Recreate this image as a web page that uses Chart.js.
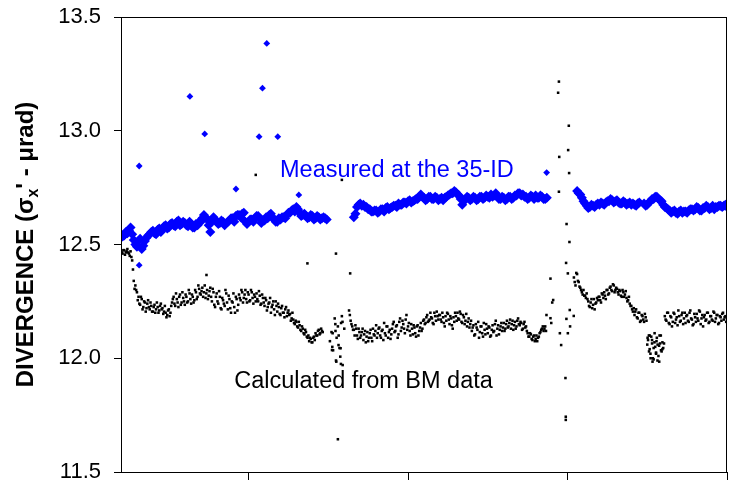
<!DOCTYPE html>
<html>
<head>
<meta charset="utf-8">
<script src="https://cdn.jsdelivr.net/npm/chart.js@4.4.1/dist/chart.umd.min.js"></script>
<style>
  html, body { margin: 0; padding: 0; overflow: hidden; background: #fff; }
</style>
</head>
<body>
<canvas id="divChart" width="732" height="510"></canvas>
<script>
// time axis in hours; readings are sampled at a fixed step from startTime
const startTime = 0.2;
const measuredStep = 0.02;
const calculatedStep = 0.01;
const xTicks = [1, 2, 3, 4];
const yTicks = [11.5, 12.0, 12.5, 13.0, 13.5];

// measured divergence at the 35-ID, two interleaved read-outs per step (null = no reading)
const measured = [
  12.545, 12.54, 12.55, 12.575, 12.52, 12.49, 12.525, 12.495, 12.53, 12.545,
  12.56, 12.545, 12.57, 12.565, 12.585, 12.575, 12.595, 12.58, 12.605, 12.59,
  12.595, 12.58, 12.59, 12.575, 12.585, 12.6, 12.63, 12.61, 12.555, 12.62,
  12.6, 12.595, 12.6, 12.595, 12.605, 12.615, 12.625, 12.63, 12.635, 12.6,
  12.6, 12.61, 12.615, 12.625, 12.595, 12.605, 12.615, 12.635, 12.61, 12.6,
  12.61, 12.62, 12.63, 12.64, 12.655, 12.665, 12.64, 12.63, 12.625, 12.62,
  12.625, 12.615, 12.62, 12.615, 12.615, null, null, null, null, null,
  null, null, null, 12.62, 12.665, 12.68, 12.675, 12.665, 12.655, 12.645,
  12.65, 12.645, 12.655, 12.66, 12.655, 12.665, 12.67, 12.68, 12.675, 12.685,
  12.69, 12.685, 12.695, 12.7, 12.72, 12.705, 12.7, 12.71, 12.7, 12.705,
  12.7, 12.695, 12.71, 12.72, 12.725, 12.73, 12.715, 12.675, 12.7, 12.705,
  12.7, 12.705, 12.7, 12.71, 12.705, 12.71, 12.72, 12.715, 12.71, 12.7,
  12.705, 12.7, 12.71, 12.705, 12.715, 12.725, 12.72, 12.71, 12.705, 12.71,
  12.715, 12.705, 12.71, 12.7, null, null, null, null, null, null,
  null, null, null, 12.735, 12.72, 12.69, 12.67, 12.665, 12.67, 12.675,
  12.675, 12.68, 12.685, 12.69, 12.695, 12.69, 12.685, 12.68, 12.685, 12.68,
  12.675, 12.675, 12.68, null, 12.68, 12.675, 12.69, 12.7, 12.71, 12.695,
  12.675, 12.66, 12.65, 12.645, 12.64, 12.645, 12.64, 12.645, 12.65, 12.655,
  12.655, 12.66, 12.65, 12.66, 12.665, 12.66, 12.655, 12.665, 12.67, 12.67, 12.665
];
const measuredB = [
  12.535, 12.555, 12.56, 12.545, 12.5, 12.515, 12.48, 12.515, 12.54, 12.555,
  12.55, 12.565, 12.555, 12.58, 12.57, 12.59, 12.585, 12.6, 12.585, 12.6,
  12.585, 12.6, 12.575, 12.59, 12.6, 12.615, 12.62, 12.585, 12.6, 12.61,
  12.59, 12.605, 12.585, 12.6, 12.615, 12.6, 12.63, 12.62, 12.64, 12.59,
  12.61, 12.6, 12.625, 12.615, 12.605, 12.62, 12.63, 12.62, 12.6, 12.615,
  12.62, 12.615, 12.64, 12.65, 12.645, 12.655, 12.625, 12.635, 12.615, 12.63,
  12.61, 12.625, 12.61, 12.62, 12.61, null, null, null, null, null,
  null, null, null, 12.635, 12.675, 12.67, 12.665, 12.655, 12.645, 12.65,
  12.64, 12.655, 12.645, 12.665, 12.66, 12.67, 12.665, 12.675, 12.685, 12.68,
  12.695, 12.69, 12.7, 12.71, 12.71, 12.695, 12.71, 12.7, 12.71, 12.695,
  12.705, 12.705, 12.715, 12.725, 12.735, 12.72, 12.7, 12.69, 12.71, 12.695,
  12.71, 12.695, 12.71, 12.7, 12.715, 12.705, 12.71, 12.725, 12.7, 12.71,
  12.695, 12.71, 12.7, 12.715, 12.725, 12.715, 12.71, 12.7, 12.715, 12.7,
  12.705, 12.715, 12.7, 12.705, null, null, null, null, null, null,
  null, null, null, 12.725, 12.705, 12.68, 12.66, 12.675, 12.665, 12.68,
  12.685, 12.675, 12.69, 12.7, 12.685, 12.695, 12.68, 12.69, 12.675, 12.685,
  12.68, 12.67, 12.685, null, 12.67, 12.685, 12.7, 12.71, 12.7, 12.69,
  12.665, 12.655, 12.64, 12.65, 12.635, 12.65, 12.645, 12.64, 12.655, 12.65,
  12.665, 12.65, 12.66, 12.67, 12.655, 12.67, 12.665, 12.67, 12.665, 12.675
];
const measuredSpikeTimes  = [0.314, 0.314, 0.632, 0.725, 0.921, 1.066, 1.087, 1.114, 1.183, 1.315, 2.869];
const measuredSpikeValues = [12.845, 12.409, 13.151, 12.986, 12.744, 12.974, 13.187, 13.384, 12.974, 12.718, 12.816];

// divergence calculated from BM data, two interleaved read-outs per step
const calculated = [
  12.47, 12.46, 12.475, 12.465, 12.48, 12.46, 12.47, 12.43, 12.34, 12.32,
  12.29, 12.27, 12.235, 12.26, 12.225, 12.245, 12.22, 12.255, 12.215, 12.23,
  12.205, 12.235, 12.215, 12.225, 12.21, 12.24, 12.22, 12.205, 12.2, 12.19,
  12.215, 12.2, 12.245, 12.27, 12.23, 12.26, 12.225, 12.28, 12.245, 12.265,
  12.235, 12.27, 12.25, 12.285, 12.24, 12.27, 12.255, 12.29, 12.27, 12.305,
  12.28, 12.31, 12.29, 12.265, 12.3, 12.275, 12.31, 12.25, 12.29, 12.225,
  12.285, 12.24, 12.27, 12.215, 12.255, 12.23, 12.285, 12.215, 12.26, 12.2,
  12.245, 12.225, 12.27, 12.21, 12.28, 12.255, 12.29, 12.265, 12.3, 12.245,
  12.28, 12.255, 12.29, 12.24, 12.27, 12.285, 12.25, 12.275, 12.24, 12.265,
  12.23, 12.255, 12.225, 12.245, 12.2, 12.235, 12.215, 12.25, 12.205, 12.225,
  12.19, 12.23, 12.2, 12.215, 12.185, 12.21, 12.195, 12.175, 12.17, 12.15,
  12.16, 12.135, 12.145, 12.12, 12.13, 12.105, 12.115, 12.09, 12.075, 12.085,
  12.07, 12.095, 12.11, 12.1, 12.125, 12.11, 12.12, null, null, null,
  null, 12.075, 12.115, 12.035, 12.175, 11.985, 12.14, 12.045, 12.155, 11.97,
  12.13, null, null, 12.21, 12.165, 12.14, 12.125, 12.145, 12.1, 12.13,
  12.09, 12.115, 12.08, 12.12, 12.095, 12.075, 12.11, 12.09, 12.13, 12.1,
  12.145, 12.11, 12.135, 12.09, 12.125, 12.155, 12.1, 12.14, 12.115, 12.085,
  12.13, 12.16, 12.12, 12.145, 12.105, 12.175, 12.135, 12.15, 12.11, 12.19,
  12.14, 12.12, 12.15, 12.105, 12.135, 12.095, 12.145, 12.12, 12.155, 12.13,
  12.17, 12.155, 12.19, 12.165, 12.2, 12.175, 12.15, 12.185, 12.205, 12.17,
  12.19, 12.16, 12.18, 12.14, 12.165, 12.195, 12.15, 12.175, 12.13, 12.16,
  12.185, 12.2, 12.17, 12.195, 12.155, 12.18, 12.165, 12.14, 12.175, 12.15,
  12.12, 12.145, 12.105, 12.135, 12.16, 12.115, 12.14, 12.095, 12.125, 12.15,
  12.11, 12.135, 12.1, 12.145, 12.12, 12.165, 12.13, 12.105, 12.14, 12.12,
  12.155, 12.13, 12.165, 12.14, 12.17, 12.15, 12.125, 12.16, 12.14, 12.175,
  12.145, 12.155, 12.13, 12.16, 12.14, 12.11, 12.095, 12.105, 12.08, 12.1,
  12.085, 12.075, 12.095, 12.115, 12.13, 12.12, 12.14, null, null, null,
  null, null, null, null, null, null, null, null, null, null,
  null, null, null, null, 12.355, 12.32, 12.37, 12.335, 12.31, 12.29,
  12.3, 12.275, 12.285, 12.25, 12.225, 12.26, 12.235, 12.215, 12.245, 12.255,
  12.27, 12.245, 12.28, 12.29, 12.26, 12.3, 12.285, 12.315, 12.295, 12.32,
  12.3, 12.305, 12.28, 12.295, 12.27, 12.29, 12.28, 12.265, 12.255, 12.24,
  12.23, 12.205, 12.19, 12.215, 12.175, 12.2, 12.165, 12.185, 12.16, 12.18,
  12.06, 12.1, 12.02, 12.08, 11.995, 12.05, 12.09, 12.01, 12.065, 12.03,
  12.045, 12.185, 12.165, 12.2, 12.15, 12.18, 12.16, 12.195, 12.17, 12.145,
  12.185, 12.165, 12.2, 12.175, 12.155, 12.19, 12.16, 12.21, 12.17, 12.15,
  12.18, 12.195, 12.165, 12.205, 12.175, 12.14, 12.19, 12.17, 12.2, 12.16,
  12.185, 12.165, 12.2, 12.175, 12.19, 12.155, 12.18, 12.195, 12.17, 12.185, 12.175
];
const calculatedB = [
  12.465, 12.475, 12.455, 12.47, 12.465, 12.45, 12.445, 12.39, 12.305, 12.3,
  12.255, 12.24, 12.27, 12.215, 12.25, 12.205, 12.24, 12.225, 12.245, 12.205,
  12.225, 12.2, 12.245, 12.2, 12.23, 12.215, 12.195, 12.23, 12.18, 12.21,
  12.185, 12.23, 12.26, 12.24, 12.285, 12.245, 12.27, 12.235, 12.29, 12.25,
  12.28, 12.245, 12.3, 12.26, 12.28, 12.245, 12.3, 12.26, 12.32, 12.285,
  12.295, 12.27, 12.32, 12.285, 12.26, 12.295, 12.27, 12.305, 12.235, 12.27,
  12.25, 12.295, 12.22, 12.265, 12.24, 12.3, 12.245, 12.275, 12.22, 12.25,
  12.285, 12.2, 12.26, 12.235, 12.265, 12.3, 12.245, 12.28, 12.26, 12.29,
  12.25, 12.3, 12.265, 12.28, 12.25, 12.26, 12.295, 12.235, 12.28, 12.245,
  12.265, 12.21, 12.24, 12.265, 12.225, 12.25, 12.19, 12.23, 12.24, 12.195,
  12.22, 12.2, 12.18, 12.225, 12.2, 12.19, 12.165, 12.2, 12.155, 12.165,
  12.14, 12.16, 12.125, 12.14, 12.11, 12.125, 12.095, 12.1, 12.09, 12.07,
  12.09, 12.08, 12.1, 12.12, 12.105, 12.13, 12.115, null, null, null,
  null, null, 12.05, null, 12.12, null, 12.1, null, 12.185, null,
  null, null, null, 12.19, 12.15, 12.125, 12.1, 12.13, 12.085, 12.115,
  12.1, 12.13, 12.105, 12.07, 12.115, 12.09, 12.125, 12.075, 12.105, 12.12,
  12.09, 12.13, 12.1, 12.12, 12.08, 12.11, 12.14, 12.09, 12.125, 12.105,
  12.15, 12.115, 12.14, 12.09, 12.16, 12.12, 12.165, 12.13, 12.17, 12.125,
  12.155, 12.1, 12.13, 12.145, 12.11, 12.14, 12.1, 12.135, 12.12, 12.165,
  12.15, 12.18, 12.16, 12.17, 12.18, 12.155, 12.2, 12.165, 12.185, 12.19,
  12.17, 12.2, 12.155, 12.185, 12.2, 12.17, 12.185, 12.145, 12.18, 12.2,
  12.165, 12.175, 12.205, 12.16, 12.19, 12.15, 12.195, 12.16, 12.135, 12.165,
  12.135, 12.1, 12.15, 12.125, 12.09, 12.14, 12.11, 12.155, 12.105, 12.13,
  12.14, 12.095, 12.125, 12.115, 12.15, 12.1, 12.145, 12.125, 12.155, 12.135,
  12.12, 12.15, 12.135, 12.155, 12.13, 12.165, 12.145, 12.13, 12.165, 12.15,
  12.16, 12.125, 12.15, 12.135, 12.12, 12.095, 12.11, 12.085, 12.095, 12.075,
  12.1, 12.09, 12.11, 12.125, 12.14, 12.13, 12.12, null, null, null,
  null, null, null, null, null, null, null, null, null, null,
  null, null, null, null, 12.335, 12.375, 12.34, 12.315, 12.3, 12.28,
  12.275, 12.265, 12.26, 12.23, 12.245, 12.22, 12.26, 12.24, 12.265, 12.27,
  12.255, 12.285, 12.265, 12.275, 12.3, 12.28, 12.31, 12.3, 12.325, 12.29,
  12.31, 12.29, 12.3, 12.275, 12.3, 12.27, 12.295, 12.25, 12.27, 12.23,
  12.215, 12.22, 12.205, 12.18, 12.2, 12.16, 12.19, 12.17, 12.195, 12.165,
  12.08, 12.04, 12.095, 12.0, 12.07, 12.025, 12.06, 11.985, 12.1, 12.04,
  12.065, 12.17, 12.2, 12.155, 12.185, 12.14, 12.2, 12.155, 12.18, 12.21,
  12.16, 12.19, 12.15, 12.2, 12.185, 12.165, 12.2, 12.175, 12.145, 12.195,
  12.16, 12.175, 12.21, 12.15, 12.19, 12.18, 12.165, 12.2, 12.155, 12.185,
  12.17, 12.205, 12.16, 12.19, 12.15, 12.185, 12.165, 12.2, 12.18, 12.16
];
// scattered calculated readings (beam dumps / refills)
const calcExtraTimes = [
  0.736, 1.045, 1.369, 1.548, 1.585, 1.637, 1.560, 1.552, 1.564, 1.575,
  1.527, 1.523, 1.577, 1.544, 1.589, 1.548, 1.579,
  2.868, 2.893, 2.893, 2.898, 2.910, 2.904, 2.952, 2.960, 2.987, 2.989, 2.989,
  2.946, 2.941, 3.008, 3.004, 2.948, 3.010, 2.946, 2.994, 3.012, 2.991, 3.002,
  3.014, 2.993, 3.002, 3.016, 3.039,
  3.502, 3.511, 3.515, 3.521, 3.530, 3.533, 3.540, 3.546, 3.555, 3.558,
  3.564, 3.574, 3.577, 3.586, 3.595
];
const calcExtraValues = [
  12.366, 12.806, 12.417, 12.46, 12.784, 12.373, 11.644, 12.09, 12.058, 12.007,
  12.11, 12.036, 12.044, 12.15, 12.16, 11.99, 11.975,
  12.19, 12.35, 12.176, 12.155, 12.256, 12.245, 12.11, 12.058, 11.913, 11.743, 11.729,
  13.216, 13.167, 13.022, 12.915, 12.885, 12.814, 12.732, 12.59, 12.511, 12.419, 12.373,
  12.212, 12.173, 12.11, 12.14, 12.186,
  12.09, 12.03, 12.1, 12.0, 12.065, 11.985, 12.045, 12.11, 12.02, 12.075,
  11.99, 12.055, 12.1, 12.035, 12.07
];

function sampled(values, step, offset) {
  const pts = [];
  values.forEach((v, i) => {
    if (v !== null) pts.push({ x: startTime + offset + i * step, y: v });
  });
  return pts;
}
function scattered(times, values, spike) {
  return times.map((t, i) => ({ x: t, y: values[i], spike: spike }));
}

const FONT = '"Liberation Sans", Arial, sans-serif';

const decorations = {
  id: 'decorations',
  afterDraw(chart) {
    const ctx = chart.ctx;
    const a = chart.chartArea;
    const xs = chart.scales.x, ys = chart.scales.y;
    ctx.save();
    // frame
    ctx.strokeStyle = '#000';
    ctx.lineWidth = 1;
    ctx.strokeRect(a.left + 0.5, a.top + 0.5, a.right - a.left - 1, a.bottom - a.top);

    // series labels
    ctx.textAlign = 'left';
    ctx.textBaseline = 'alphabetic';
    ctx.font = '23.5px ' + FONT;
    ctx.fillStyle = '#0000ff';
    ctx.fillText('Measured at the 35-ID', xs.getPixelForValue(1.197), ys.getPixelForValue(12.798));
    ctx.fillStyle = '#000';
    ctx.fillText('Calculated from BM data', xs.getPixelForValue(0.910), ys.getPixelForValue(11.868));

    // y axis title with subscript
    const big = 'bold 24px ' + FONT, small = 'bold 16px ' + FONT;
    const parts = [
      { t: 'DIVERGENCE (\u03C3', f: big, dy: 0 },
      { t: 'x', f: small, dy: 5 },
      { t: '\'', f: big, dy: 0 },
      { t: ' - \u03BCrad)', f: big, dy: 0 }
    ];
    let total = 0;
    parts.forEach(p => { ctx.font = p.f; p.w = ctx.measureText(p.t).width; total += p.w; });
    ctx.translate(33, (a.top + a.bottom) / 2);
    ctx.rotate(-Math.PI / 2);
    ctx.fillStyle = '#000';
    let x = -total / 2;
    parts.forEach(p => { ctx.font = p.f; ctx.fillText(p.t, x, p.dy); x += p.w; });
    ctx.restore();
  }
};

new Chart(document.getElementById('divChart'), {
  type: 'scatter',
  data: {
    datasets: [
      {
        label: 'Measured at the 35-ID',
        data: sampled(measured, measuredStep, 0)
          .concat(sampled(measuredB, measuredStep, measuredStep / 2))
          .concat(scattered(measuredSpikeTimes, measuredSpikeValues, true)),
        pointStyle: 'rectRot',
        pointRadius: c => (c.raw && c.raw.spike) ? 3.4 : 5,
        backgroundColor: '#0000ff',
        borderWidth: 0
      },
      {
        label: 'Calculated from BM data',
        data: sampled(calculated, calculatedStep, 0)
          .concat(sampled(calculatedB, calculatedStep, calculatedStep / 2))
          .concat(scattered(calcExtraTimes, calcExtraValues, false)),
        pointStyle: 'rect',
        pointRadius: 1.8,
        backgroundColor: '#000',
        borderWidth: 0
      }
    ]
  },
  options: {
    responsive: false,
    animation: false,
    devicePixelRatio: 1,
    layout: { padding: { left: 0, right: 1, top: 17, bottom: 30 } },
    plugins: { legend: { display: false }, tooltip: { enabled: false } },
    scales: {
      x: {
        type: 'linear',
        min: 0.2,
        max: 4.0,
        afterBuildTicks: s => { s.ticks = xTicks.map(v => ({ value: v })); },
        afterFit: s => { s.height = 8; s.paddingLeft = 0; s.paddingRight = 0; },
        ticks: { display: false },
        grid: { drawOnChartArea: false, drawTicks: true, tickLength: 8, color: '#000' },
        border: { color: '#000', width: 1 }
      },
      y: {
        min: 11.5,
        max: 13.5,
        afterBuildTicks: s => { s.ticks = yTicks.map(v => ({ value: v })); },
        afterFit: s => { s.width = 121; s.paddingTop = 0; s.paddingBottom = 0; },
        ticks: {
          color: '#000',
          padding: 13,
          font: { family: FONT, size: 22 },
          callback: v => Number(v).toFixed(1)
        },
        grid: { drawOnChartArea: false, drawTicks: true, tickLength: 7, color: '#000' },
        border: { color: '#000', width: 1 }
      }
    }
  },
  plugins: [decorations]
});
</script>
</body>
</html>
